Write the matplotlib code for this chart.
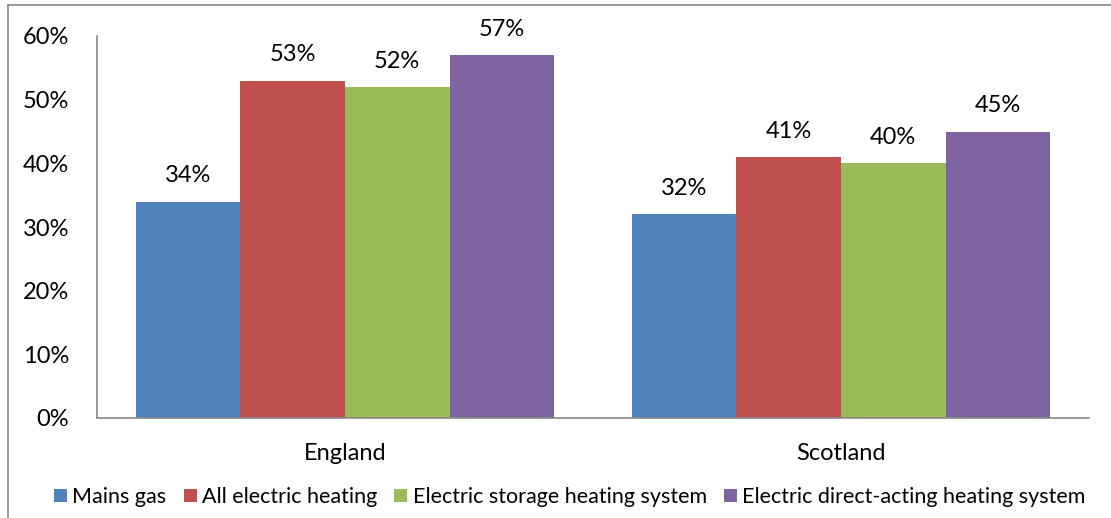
import matplotlib.pyplot as plt
import numpy as np

regions = ["England", "Scotland"]
series = ["Mains gas", "All electric heating", "Electric storage heating system",
          "Electric direct-acting heating system"]
values = [
    [34, 32],
    [53, 41],
    [52, 40],
    [57, 45],
]
colors = ["#4F81BD", "#C0504D", "#9BBB59", "#8064A2"]

plt.rcParams['font.family'] = ['Lato', 'DejaVu Sans']
fs = 17

fig = plt.figure(figsize=(11.11, 5.18), dpi=100)
ax = fig.add_axes([97 / 1111, 1 - 418 / 518, (1089 - 97) / 1111, (418 - 36) / 518])

x = np.arange(len(regions))
width = 0.2107
for i, (name, vals) in enumerate(zip(series, values)):
    pos = x + (i - 1.5) * width
    fracs = [v / 100 for v in vals]
    ax.bar(pos, fracs, width, color=colors[i], label=name)
    for px, v in zip(pos, vals):
        ax.annotate(f"{v}%", (px, v / 100), xytext=(0, 11), textcoords="offset points",
                    ha="center", va="bottom", fontsize=fs)

ax.set_xlim(-0.5, 1.5)
ax.set_ylim(0, 0.6)
ax.set_yticks(np.arange(0, 0.61, 0.1))
ax.set_yticklabels([f"{int(round(t * 100))}%" for t in np.arange(0, 0.61, 0.1)])
ax.set_xticks(x)
ax.set_xticklabels(regions)
ax.tick_params(axis="both", length=0, labelsize=fs)
ax.tick_params(axis="y", pad=20)
ax.tick_params(axis="x", pad=18)
for s in ["top", "right"]:
    ax.spines[s].set_visible(False)
for s in ["left", "bottom"]:
    ax.spines[s].set_color("#888888")
    ax.spines[s].set_linewidth(1.2)

fig.legend(loc="center", bbox_to_anchor=(0.513, 1 - 497 / 518), ncol=4, frameon=False,
           fontsize=15.5, handlelength=0.6, handleheight=0.6, handletextpad=0.25,
           columnspacing=0.8)

# outer chart border (left and top edges visible)
fig.add_artist(plt.Line2D([8 / 1111, 8 / 1111], [0, 1 - 5 / 518], transform=fig.transFigure,
                          color="#888888", linewidth=1.2))
fig.add_artist(plt.Line2D([8 / 1111, 1], [1 - 5 / 518, 1 - 5 / 518], transform=fig.transFigure,
                          color="#888888", linewidth=1.2))

fig.savefig("out.png", dpi=100)
